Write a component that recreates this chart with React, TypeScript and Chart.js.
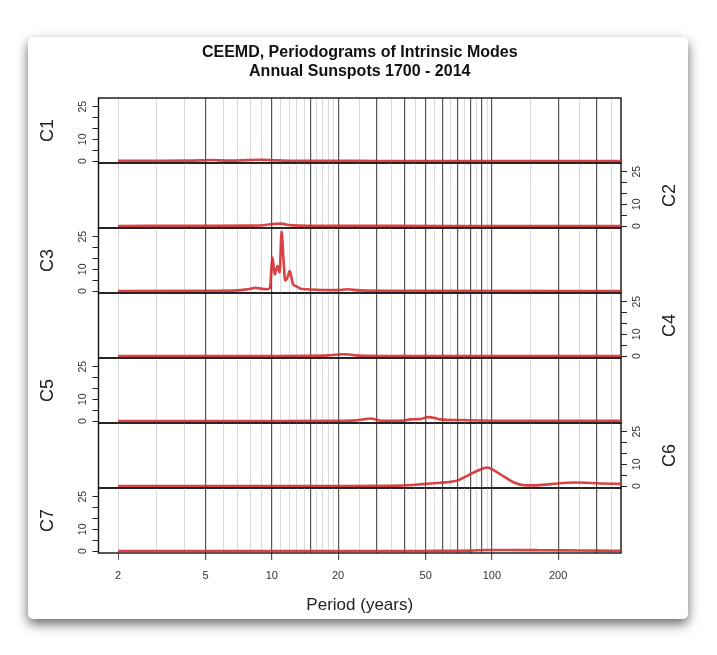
import React, { useEffect, useRef } from "react";
import { Chart, registerables } from "chart.js";

Chart.register(...registerables);
Chart.defaults.font.family = "'Liberation Sans', Arial, Helvetica, sans-serif";

// x axis (period, log scale)
const X_MIN = 1.63;
const X_MAX = 386;
const gridDark = [5, 10, 15, 20, 30, 40, 50, 60, 70, 80, 90, 100, 200, 300];
const gridLight = [2, 3, 4, 6, 7, 8, 9, 11, 12, 13, 14, 16, 17, 18, 19, 25, 35, 45, 55, 65, 75, 85, 95, 150, 250, 350];
const xLabels = [2, 5, 10, 20, 50, 100, 200];

// y axis (power) per panel
const Y_MIN = -0.9;
const Y_MAX = 29;
const yTicks = [0, 5, 10, 15, 20, 25];
const yLabels = [0, 10, 25];

const titleLines = ["CEEMD, Periodograms of Intrinsic Modes", "Annual Sunspots 1700 - 2014"];
const modeNames = ["C1", "C2", "C3", "C4", "C5", "C6", "C7"];

// periodograms
const c1Period = [2, 3, 4, 4.8, 5.3, 5.8, 6.5, 7.3, 8, 8.8, 9.5, 10.5, 12, 16, 30, 100, 386];
const c1Power = [0.1, 0.15, 0.2, 0.3, 0.5, 0.3, 0.2, 0.3, 0.5, 0.6, 0.5, 0.3, 0.15, 0.1, 0.05, 0.02, 0];

const c2Period = [2, 5, 8, 9.2, 9.8, 10.4, 11, 11.6, 12.5, 15, 25, 60, 386];
const c2Power = [0.05, 0.1, 0.2, 0.35, 0.8, 1.0, 1.1, 0.7, 0.3, 0.15, 0.1, 0.05, 0.02];

const c3Period = [2, 5, 7, 7.9, 8.4, 9, 9.5, 9.8, 10.07, 10.3, 10.6, 10.85, 11.07, 11.3, 11.5, 11.8, 12.05, 12.5, 12.9, 13.4, 14.5, 17, 20, 22, 25, 40, 386];
const c3Power = [0.05, 0.1, 0.3, 0.9, 1.5, 1.0, 0.8, 1.5, 15.4, 7.6, 11.5, 8.5, 27.4, 14, 4.8, 6.5, 9.2, 3, 2.2, 1.2, 0.8, 0.5, 0.4, 0.8, 0.3, 0.1, 0.05];

const c4Period = [2, 10, 15, 18, 19.5, 21, 22.5, 24, 27, 40, 386];
const c4Power = [0.02, 0.05, 0.1, 0.3, 0.6, 0.85, 0.7, 0.3, 0.15, 0.05, 0.02];

const c5Period = [2, 10, 20, 24, 26, 28, 30, 31.5, 36, 39.5, 42.5, 47, 51.5, 55, 58, 70, 110, 386];
const c5Power = [0.02, 0.05, 0.1, 0.3, 0.7, 1.2, 0.6, 0.15, 0.15, 0.2, 0.75, 0.9, 1.8, 1.4, 0.75, 0.45, 0.15, 0.1];

const c6Period = [2, 20, 38, 50, 58, 65, 70, 77.5, 86, 95, 103, 114, 126, 140, 156, 186, 237, 313, 386];
const c6Power = [0, 0.05, 0.2, 1.0, 1.5, 2.0, 2.6, 4.8, 7.0, 8.5, 7.0, 4.2, 1.6, 0.4, 0.3, 0.9, 1.6, 1.2, 1.0];

const c7Period = [2, 20, 50, 80, 95, 120, 160, 220, 300, 386];
const c7Power = [0, 0.02, 0.05, 0.2, 0.5, 0.5, 0.4, 0.3, 0.2, 0.15];

const periods = [c1Period, c2Period, c3Period, c4Period, c5Period, c6Period, c7Period];
const powers = [c1Power, c2Power, c3Power, c4Power, c5Power, c6Power, c7Power];

// page geometry
const PAGE_W = 717;
const CARD_TOP = 37;
const PANEL_TOP = 98;
const PANEL_H = 65;
const PLOT_LEFT = 98.5;
const PLOT_RIGHT = 621;
const AXIS_W = 60;

const gridPeriods = [...gridDark, ...gridLight].sort((a, b) => a - b);

type PanelProps = { index: number };

const Panel = ({ index }: PanelProps) => {
  const chartRef = useRef<HTMLCanvasElement | null>(null);
  const isFirst = index === 0;
  const isLast = index === modeNames.length - 1;
  const onLeft = index % 2 === 0;
  const bandTop = PANEL_TOP + PANEL_H * index;
  const extraTop = isFirst ? bandTop - CARD_TOP : 3;
  const extraBottom = isLast ? 67 : 3;
  const height = PANEL_H + extraTop + extraBottom;

  useEffect(() => {
    if (!chartRef.current) return;
    const name = modeNames[index];

    // box round the panel, its name at the side, main title over the first one
    const frame = {
      id: "frame",
      beforeDatasetsDraw(chart: any) {
        const { ctx, chartArea: a } = chart;
        ctx.save();
        ctx.strokeStyle = "#111";
        ctx.lineWidth = 1.4;
        ctx.strokeRect(a.left, a.top, a.right - a.left, a.bottom - a.top);
        ctx.restore();
      },
      afterDraw(chart: any) {
        const { ctx, chartArea: a } = chart;
        ctx.save();
        ctx.font = "18px 'Liberation Sans', Arial, sans-serif";
        ctx.fillStyle = "#222";
        ctx.textAlign = "center";
        ctx.textBaseline = "middle";
        ctx.translate(onLeft ? a.left - 50 : a.right + 49, (a.top + a.bottom) / 2);
        ctx.rotate(-Math.PI / 2);
        ctx.fillText(name, 0, 0);
        ctx.restore();
        if (isFirst) {
          ctx.save();
          ctx.font = "bold 16px 'Liberation Sans', Arial, sans-serif";
          ctx.fillStyle = "#111";
          ctx.textAlign = "center";
          ctx.textBaseline = "middle";
          const cx = (a.left + a.right) / 2;
          ctx.fillText(titleLines[0], cx, a.top - 45);
          ctx.fillText(titleLines[1], cx, a.top - 26);
          ctx.restore();
        }
      },
    };

    const chart = new Chart(chartRef.current, {
      type: "line",
      data: {
        datasets: [
          {
            data: periods[index].map((p, i) => ({ x: p, y: powers[index][i] })),
            borderColor: "rgba(212, 48, 48, 0.9)",
            borderWidth: 2.6,
            pointRadius: 0,
            cubicInterpolationMode: "monotone",
            fill: false,
          },
        ],
      },
      options: {
        animation: false,
        responsive: false,
        maintainAspectRatio: false,
        layout: {
          padding: {
            left: onLeft ? PLOT_LEFT - AXIS_W : PLOT_LEFT,
            right: onLeft ? PAGE_W - PLOT_RIGHT : PAGE_W - PLOT_RIGHT - AXIS_W,
            top: extraTop,
            bottom: isLast ? 0 : extraBottom,
          },
        },
        plugins: {
          legend: { display: false },
          tooltip: { enabled: false },
        },
        scales: {
          x: {
            type: "logarithmic",
            min: X_MIN,
            max: X_MAX,
            afterBuildTicks: (s: any) => {
              s.ticks = gridPeriods.map((v) => ({ value: v }));
            },
            afterFit: (s: any) => {
              s.height = isLast ? 67 : 0;
              s.paddingLeft = 0;
              s.paddingRight = 0;
            },
            grid: {
              color: (c: any) => (gridDark.includes(c.tick?.value) ? "#555" : "#dadada"),
              lineWidth: (c: any) => (gridDark.includes(c.tick?.value) ? 1.2 : 1),
              drawTicks: isLast,
              tickLength: 7,
              tickColor: (c: any) => (xLabels.includes(c.tick?.value) ? "#555" : "rgba(0,0,0,0)"),
            },
            border: { display: false },
            ticks: {
              display: isLast,
              autoSkip: false,
              minRotation: 0,
              maxRotation: 0,
              padding: 9,
              color: "#333",
              font: { size: 11 },
              callback: (v: any) => (xLabels.includes(Number(v)) ? String(v) : ""),
            },
            title: {
              display: isLast,
              text: "Period (years)",
              color: "#222",
              font: { size: 17 },
              padding: { top: 4, bottom: 4 },
            },
          },
          y: {
            position: onLeft ? "left" : "right",
            min: Y_MIN,
            max: Y_MAX,
            afterBuildTicks: (s: any) => {
              s.ticks = yTicks.map((v) => ({ value: v }));
            },
            afterFit: (s: any) => {
              s.width = AXIS_W;
              s.paddingTop = 0;
              s.paddingBottom = 0;
            },
            grid: {
              drawOnChartArea: false,
              drawTicks: true,
              tickLength: 6,
              tickColor: "#222",
              lineWidth: 1,
            },
            border: { display: false },
            ticks: {
              autoSkip: false,
              minRotation: 90,
              maxRotation: 90,
              crossAlign: "center",
              padding: 4,
              color: "#333",
              font: { size: 10.5 },
              callback: (v: any) => (yLabels.includes(Number(v)) ? String(v) : ""),
            },
          },
        },
      },
      plugins: [frame],
    } as any);

    return () => {
      chart.destroy();
    };
  }, [index]);

  return (
    <canvas
      ref={chartRef}
      width={PAGE_W}
      height={height}
      style={{ position: "absolute", left: 0, top: bandTop - extraTop, width: PAGE_W, height }}
    />
  );
};

export default function App() {
  return (
    <div style={{ position: "absolute", left: 0, top: 0, width: 717, height: 655, background: "#fff", overflow: "hidden" }}>
      <div
        style={{
          position: "absolute",
          left: 28,
          top: CARD_TOP,
          width: 660,
          height: 582,
          background: "#fff",
          borderRadius: 5,
          boxShadow: "0 5px 12px rgba(0,0,0,0.6)",
        }}
      />
      {modeNames.map((n, i) => (
        <Panel key={n} index={i} />
      ))}
    </div>
  );
}
